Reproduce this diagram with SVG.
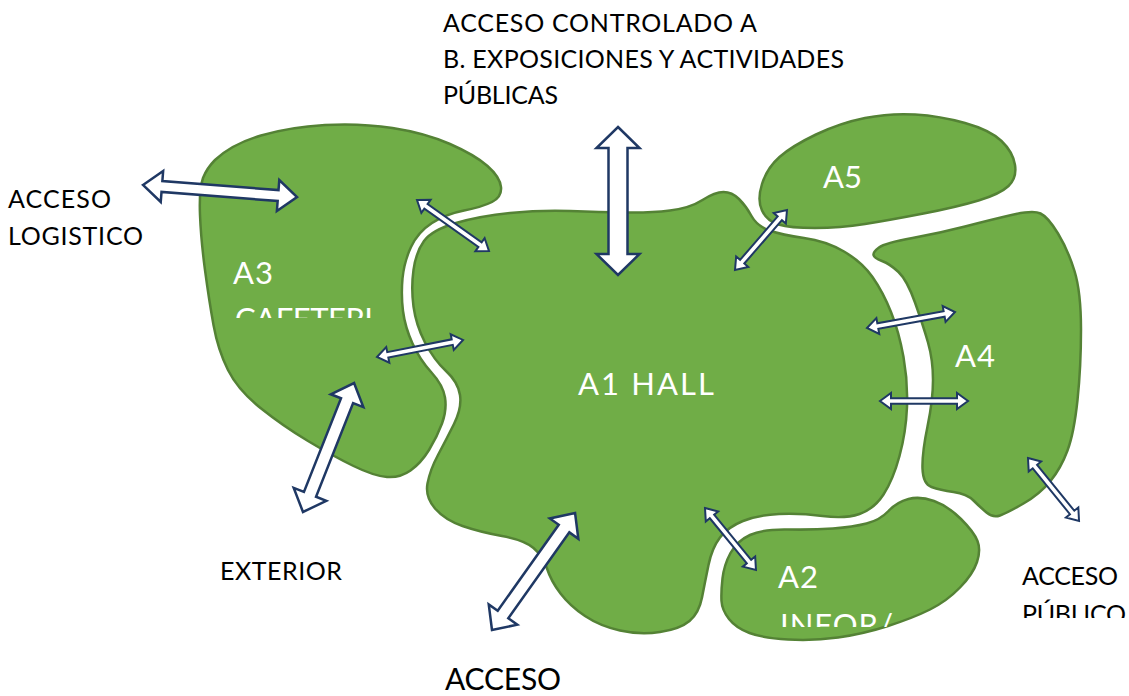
<svg xmlns="http://www.w3.org/2000/svg" width="1129" height="696" viewBox="0 0 1129 696">
<style>
.blob{fill:#70AD47;stroke:#548235;stroke-width:2.5}
.arr{fill:#ffffff;stroke:#1F3864;stroke-width:2.5;stroke-linejoin:miter}
.sarr{fill:#ffffff;stroke:#1F3864;stroke-width:2;stroke-linejoin:miter}
.lbl{font-family:Lato,"Liberation Sans",sans-serif;font-size:25px;fill:#000000}
.big{font-size:30px}
.wl{font-family:Lato,"Liberation Sans",sans-serif;font-size:31px;fill:#ffffff}
</style>
<defs>
<clipPath id="clipCaf"><rect x="200" y="290" width="220" height="28"/></clipPath>
<clipPath id="clipInf"><rect x="760" y="595" width="200" height="32"/></clipPath>
<clipPath id="clipPub"><rect x="1000" y="590" width="129" height="28"/></clipPath>
</defs>
<rect width="1129" height="696" fill="#ffffff"/>
<g id="A3">
<path class="blob" d="M 215,160 Q 232,144 261,135.5 Q 290,127 325,125 Q 360,123 392.5,128 Q 425,133 450,144 Q 475,155 487.5,166 Q 500,177 501,187 Q 502,197 492,202 Q 482,207 464,210.5 Q 446,214 432,223 Q 418,232 411,247 Q 404,262 402.5,278.5 Q 401,295 403,311 Q 405,327 412.5,343.5 Q 420,360 431.5,372.5 Q 443,385 445,397.5 Q 447,410 442,423.5 Q 437,437 429,450 Q 421,463 410.5,470.5 Q 400,478 387,477 Q 374,476 353.5,466 Q 333,456 308,441 Q 283,426 260.5,408 Q 238,390 228,370 Q 218,350 213.5,325 Q 209,300 205,270 Q 201,240 200,215 Q 199,190 203,178 Q 207,168 215,160 Z"/>
<text class="wl" x="233" y="284" textLength="40">A3</text>
<text class="wl" x="235" y="330" textLength="138" clip-path="url(#clipCaf)">CAFETERI</text>
</g>
<g id="A1">
<path class="blob" d="M 456,223 Q 480,216 510,213 Q 540,210 570,211 Q 600,212 625,212.5 Q 650,213 670,210.5 Q 690,208 702.5,200 Q 715,192 723.5,192 Q 732,192 739,199 Q 746,206 751.5,216 Q 757,226 769.5,230.5 Q 782,235 804,238 Q 826,241 844,251.5 Q 862,262 872.5,277 Q 883,292 891,312 Q 899,332 903.5,357 Q 908,382 907,407 Q 906,432 899.5,456 Q 893,480 883.5,494.5 Q 874,509 859.5,514 Q 845,519 822.5,516 Q 800,513 779,514 Q 758,515 743,521 Q 728,527 720,537.5 Q 712,548 708.5,565 Q 705,582 702,597.5 Q 699,613 689.5,621 Q 680,629 660,632 Q 640,635 620,630.5 Q 600,626 585,616 Q 570,606 560.5,593.5 Q 551,581 547,568.5 Q 543,556 533.5,548 Q 524,540 502,536 Q 480,532 462.5,526 Q 445,520 435,508.5 Q 425,497 427.5,483.5 Q 430,470 438,455 Q 446,440 454,424 Q 462,408 460,395 Q 458,382 446,371 Q 434,360 425,342.5 Q 416,325 413.5,306.5 Q 411,288 413.5,270 Q 416,252 424,241 Q 432,230 456,223 Z"/>
<text class="wl" x="578" y="395" textLength="136">A1  HALL</text>
</g>
<g id="A5">
<path class="blob" d="M 762,184 Q 767,168 779.5,157 Q 792,146 816,134.5 Q 840,123 865,118 Q 890,113 915,114.5 Q 940,116 965,123 Q 990,130 1001.5,141 Q 1013,152 1015,165 Q 1017,178 1008.5,186 Q 1000,194 978.5,200.5 Q 957,207 923.5,213.5 Q 890,220 865,224 Q 840,228 815,228 Q 790,228 778.5,224.5 Q 767,221 762,210.5 Q 757,200 762,184 Z"/>
<text class="wl" x="823" y="188" textLength="39">A5</text>
</g>
<g id="A4">
<path class="blob" d="M 879,247.5 Q 885,243 912.5,238 Q 940,233 965,226.5 Q 990,220 1011.5,215 Q 1033,210 1040.5,213.5 Q 1048,217 1058,233.5 Q 1068,250 1074.5,271 Q 1081,292 1081,329.5 Q 1081,367 1077.5,400 Q 1074,433 1067.5,450.5 Q 1061,468 1050.5,481 Q 1040,494 1023.5,503.5 Q 1007,513 1000,515.5 Q 993,518 986.5,512.5 Q 980,507 973.5,500.5 Q 967,494 953.5,492 Q 940,490 931.5,487 Q 923,484 922.5,468.5 Q 922,453 927.5,426.5 Q 933,400 933,380 Q 933,360 928,342.5 Q 923,325 915,302.5 Q 907,280 898.5,272 Q 890,264 882,261 Q 874,258 873.5,255 Q 873,252 879,247.5 Z"/>
<text class="wl" x="955" y="367" textLength="40">A4</text>
</g>
<g id="A2">
<path class="blob" d="M 722.5,578.5 Q 724,565 730.5,553 Q 737,541 750,535 Q 763,529 788,529.5 Q 813,530 833,528.5 Q 853,527 866.5,523.5 Q 880,520 888.5,511 Q 897,502 908.5,499 Q 920,496 934,501 Q 948,506 961,519 Q 974,532 977.5,541 Q 981,550 977,562 Q 973,574 960,587.5 Q 947,601 930,609.5 Q 913,618 888,626 Q 863,634 838,637.5 Q 813,641 788,639.5 Q 763,638 749.5,633 Q 736,628 729,619 Q 722,610 721.5,601 Q 721,592 722.5,578.5 Z"/>
<text class="wl" x="778" y="588" textLength="40">A2</text>
<text class="wl" x="780" y="636" textLength="113" clip-path="url(#clipInf)">INFOR/</text>
</g>
<g id="connectors">
<polygon class="arr" transform="translate(143,185) rotate(4.46)" points="0,0 19,-15.5 19,-5.5 135.5,-5.5 135.5,-15.5 154.5,0 135.5,15.5 135.5,5.5 19,5.5 19,15.5"/>
<polygon class="arr" transform="translate(618,127) rotate(90)" points="0,0 21,-21.5 21,-9.5 127,-9.5 127,-21.5 148,0 127,21.5 127,9.5 21,9.5 21,21.5"/>
<polygon class="arr" transform="translate(303,512) rotate(-68.4)" points="0,0 19,-17.5 19,-6.5 119.7,-6.5 119.7,-17.5 138.7,0 119.7,17.5 119.7,6.5 19,6.5 19,17.5"/>
<polygon class="arr" transform="translate(492,630) rotate(-54.6)" points="0,0 19,-17.5 19,-6.5 124.4,-6.5 124.4,-17.5 143.4,0 124.4,17.5 124.4,6.5 19,6.5 19,17.5"/>
<polygon class="sarr" transform="translate(417,200) rotate(35.3)" points="0,0 11,-8 11,-2.8 77.2,-2.8 77.2,-8 88.2,0 77.2,8 77.2,2.8 11,2.8 11,8"/>
<polygon class="sarr" transform="translate(377,357) rotate(-11.2)" points="0,0 11,-8 11,-2.8 76.7,-2.8 76.7,-8 87.7,0 76.7,8 76.7,2.8 11,2.8 11,8"/>
<polygon class="sarr" transform="translate(735,270) rotate(-49.1)" points="0,0 11,-8 11,-2.8 68.4,-2.8 68.4,-8 79.4,0 68.4,8 68.4,2.8 11,2.8 11,8"/>
<polygon class="sarr" transform="translate(867,328) rotate(-10.3)" points="0,0 11,-8 11,-2.8 78.4,-2.8 78.4,-8 89.4,0 78.4,8 78.4,2.8 11,2.8 11,8"/>
<polygon class="sarr" transform="translate(880,401)" points="0,0 11,-8 11,-2.8 77,-2.8 77,-8 88,0 77,8 77,2.8 11,2.8 11,8"/>
<polygon class="sarr" transform="translate(1028,458) rotate(51)" points="0,0 11,-8 11,-2.8 70.1,-2.8 70.1,-8 81.1,0 70.1,8 70.1,2.8 11,2.8 11,8"/>
<polygon class="sarr" transform="translate(705,508) rotate(50.6)" points="0,0 11,-8 11,-2.8 69.3,-2.8 69.3,-8 80.3,0 69.3,8 69.3,2.8 11,2.8 11,8"/>
</g>
<g id="labels">
<text class="lbl" x="443" y="32" textLength="314">ACCESO CONTROLADO A</text>
<text class="lbl" x="443" y="68" textLength="401">B. EXPOSICIONES Y ACTIVIDADES</text>
<text class="lbl" x="443" y="104" textLength="115">PÚBLICAS</text>
<text class="lbl" x="8" y="208" textLength="103">ACCESO</text>
<text class="lbl" x="8" y="245" textLength="135">LOGISTICO</text>
<text class="lbl" x="220" y="580" textLength="122">EXTERIOR</text>
<text class="lbl big" x="445" y="690" textLength="116">ACCESO</text>
<text class="lbl" x="1022" y="585" textLength="96">ACCESO</text>
<text class="lbl" x="1022" y="623" textLength="104" clip-path="url(#clipPub)">PÚBLICO</text>
</g>
</svg>
